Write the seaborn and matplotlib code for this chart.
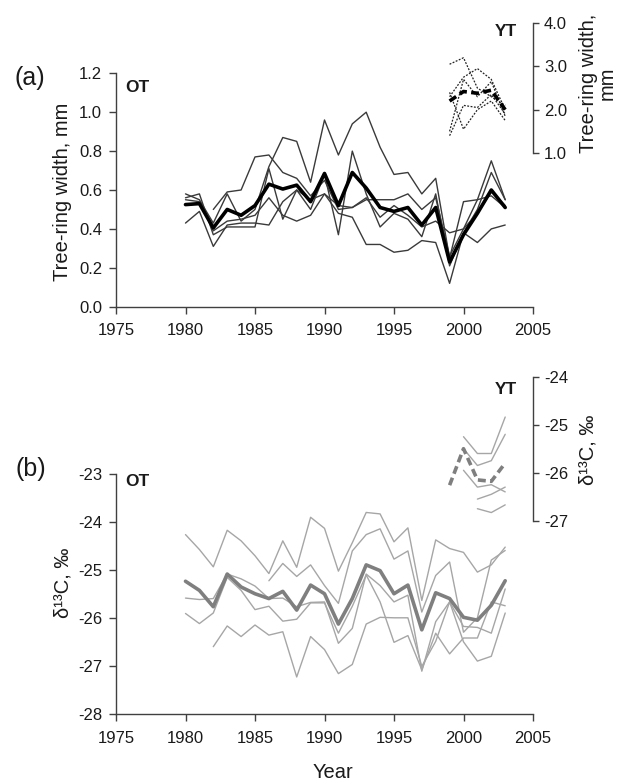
import numpy as np
import pandas as pd
import matplotlib
matplotlib.use("Agg")
import matplotlib.pyplot as plt
import seaborn as sns

nan = np.nan

# ---------------- data ----------------
years = list(range(1980, 2004))
yt_years = [1999, 2000, 2001, 2002, 2003]

# (a) tree-ring width, OT (mm)
ot_trw_mean = [0.525, 0.53, 0.405, 0.50, 0.47, 0.52, 0.63, 0.605, 0.625, 0.54, 0.685, 0.52,
               0.69, 0.61, 0.51, 0.49, 0.51, 0.42, 0.51, 0.23, 0.37, 0.48, 0.60, 0.51]
ot_trw_t1 = [0.58, 0.55, 0.43, 0.58, 0.44, 0.50, 0.72, 0.87, 0.85, 0.64, 0.96, 0.78,
             0.94, 1.00, 0.82, 0.68, 0.69, 0.58, 0.66, 0.25, 0.54, 0.55, 0.75, 0.55]
ot_trw_t2 = [nan, nan, 0.50, 0.59, 0.60, 0.77, 0.78, 0.69, 0.66, 0.57, 0.65, 0.50,
             0.51, 0.55, 0.55, 0.55, 0.58, 0.50, 0.56, 0.26, 0.40, 0.48, 0.59, 0.52]
ot_trw_t3 = [0.43, 0.49, 0.31, 0.42, 0.43, 0.43, 0.42, 0.54, 0.60, 0.55, 0.58, 0.48,
             0.46, 0.32, 0.32, 0.28, 0.29, 0.34, 0.33, 0.12, 0.38, 0.33, 0.40, 0.42]
ot_trw_t4 = [0.56, 0.58, 0.37, 0.41, 0.41, 0.41, 0.71, 0.45, 0.60, 0.50, 0.68, 0.37,
             0.80, 0.58, 0.41, 0.48, 0.45, 0.36, 0.58, 0.21, 0.38, 0.50, 0.69, 0.55]
ot_trw_t5 = [0.55, 0.54, 0.39, 0.44, 0.45, 0.47, 0.56, 0.47, 0.44, 0.47, 0.58, 0.52,
             0.51, 0.56, 0.46, 0.52, 0.47, 0.41, 0.44, 0.38, 0.40, 0.55, 0.57, 0.51]

# (a) tree-ring width, YT (mm)
yt_trw_mean = [2.2, 2.42, 2.38, 2.45, 2.0]
yt_trw_t1 = [3.05, 3.2, 2.5, 2.3, 2.1]
yt_trw_t2 = [2.3, 2.75, 2.95, 2.7, 2.0]
yt_trw_t3 = [1.5, 2.7, 2.3, 2.65, 1.85]
yt_trw_t4 = [2.4, 1.55, 2.0, 2.2, 1.75]
yt_trw_t5 = [1.4, 2.1, 2.05, 2.35, 1.9]

# (b) d13C, OT (permil)
ot_d13c_mean = [-25.24, -25.43, -25.77, -25.09, -25.36, -25.5, -25.6, -25.45, -25.84, -25.32,
                -25.5, -26.13, -25.6, -24.9, -25.02, -25.5, -25.32, -26.25, -25.48, -25.6,
                -25.99, -26.05, -25.74, -25.23]
ot_d13c_t1 = [-24.27, -24.58, -24.94, -24.18, -24.4, -24.71, -25.08, -24.4, -24.95, -23.91,
              -24.14, -25.03, -24.44, -23.81, -23.84, -24.42, -24.13, -25.64, -24.38, -24.56,
              -24.64, -25.05, -24.9, -24.53]
ot_d13c_t2 = [nan, nan, nan, nan, nan, nan, -25.23, -24.87, -25.14, -24.9,
              -25.33, -25.7, -24.61, -24.27, -24.15, -24.78, -24.61, -25.88, -25.12, -24.84,
              -26.3, -26.0, -24.8, -24.6]
ot_d13c_t3 = [-25.59, -25.62, -25.6, -25.09, -25.19, -25.34, -25.6, -25.59, -25.77, -25.68,
              -25.67, -26.53, -26.22, -25.09, -25.33, -25.67, -25.53, -27.11, -26.08, -25.67,
              -26.18, -26.2, -26.32, -25.4]
ot_d13c_t4 = [-25.91, -26.12, -25.9, -25.16, -25.43, -25.83, -25.76, -26.07, -26.03, -25.69,
              -25.69, -26.32, -25.76, -25.11, -25.67, -26.51, -26.37, -27.08, -26.32, -26.75,
              -26.42, -26.42, -25.67, -25.75]
ot_d13c_t5 = [nan, nan, -26.6, -26.17, -26.39, -26.15, -26.36, -26.29, -27.23, -26.39,
              -26.66, -27.16, -26.97, -26.13, -25.99, -26.0, -26.0, -27.01, -26.49, -25.67,
              -26.5, -26.9, -26.8, -25.9]

# (b) d13C, YT (permil)
yt_d13c_mean = [-26.26, -25.5, -26.15, -26.18, -25.8]
yt_d13c_t1 = [nan, -25.25, -25.6, -25.6, -24.84]
yt_d13c_t2 = [nan, -25.5, -25.85, -25.75, -25.2]
yt_d13c_t3 = [nan, -25.95, -26.3, -26.25, -26.4]
yt_d13c_t4 = [nan, nan, -26.55, -26.45, -26.3]
yt_d13c_t5 = [nan, nan, -26.75, -26.83, -26.67]

x_ticks = [1975, 1980, 1985, 1990, 1995, 2000, 2005]
trw_ticks = [0.0, 0.2, 0.4, 0.6, 0.8, 1.0, 1.2]
trw_yt_ticks = [1.0, 2.0, 3.0, 4.0]
d13c_ticks = [-28, -27, -26, -25, -24, -23]
d13c_yt_ticks = [-27, -26, -25, -24]

# ---------------- style ----------------
sns.set_style("ticks")
plt.rcParams["font.family"] = ["Liberation Sans", "DejaVu Sans"]
plt.rcParams["axes.edgecolor"] = "#404040"
plt.rcParams["axes.linewidth"] = 1.0
plt.rcParams["axes.unicode_minus"] = False

W, H = 618, 782
fig = plt.figure(figsize=(W / 100, H / 100), dpi=100)


def fx(px):
    return px / W


def fy(py):
    return 1 - py / H


TXT = "#1a1a1a"
TICK_FS = 12


def series_plot(ax, xs, ys, **kw):
    df = pd.DataFrame({"x": xs, "y": ys}).dropna()
    sns.lineplot(data=df, x="x", y="y", ax=ax, legend=False, estimator=None, **kw)


def style_axes(ax, ax2, yb, yt_b):
    ax.set_xlim(1975, 2005)
    ax.set_xticks(x_ticks)
    ax.spines["top"].set_visible(False)
    ax.spines["right"].set_visible(False)
    ax.spines["left"].set_bounds(*yb)
    ax.tick_params(axis="both", direction="out", length=5, width=1, color="#404040",
                   labelsize=TICK_FS, labelcolor=TXT)
    ax.tick_params(axis="x", pad=7)
    ax.tick_params(axis="y", pad=5)
    ax.set_xlabel("")
    ax.set_ylabel("")
    for s in ["top", "left", "bottom"]:
        ax2.spines[s].set_visible(False)
    ax2.spines["right"].set_bounds(*yt_b)
    ax2.tick_params(axis="y", direction="out", length=4, width=1, color="#404040",
                    labelsize=TICK_FS, labelcolor=TXT, pad=4)
    ax2.set_ylabel("")
    ax2.set_xlabel("")


# ---------------- panel (a) ----------------
left, right = 116, 533
a_bot, a_top = 306.7, 20
axA = fig.add_axes([fx(left), fy(a_bot), (right - left) / W, (a_bot - a_top) / H])
axA.patch.set_alpha(0)
axA.set_ylim(0, (a_bot - a_top) / 194.5)
axA.set_yticks(trw_ticks)
axA.set_yticklabels([f"{v:.1f}" for v in trw_ticks])

for s in [ot_trw_t1, ot_trw_t2, ot_trw_t3, ot_trw_t4, ot_trw_t5]:
    series_plot(axA, years, s, color="#3a3a3a", linewidth=1.0)
series_plot(axA, years, ot_trw_mean, color="black", linewidth=2.6)

axA2 = axA.twinx()
px_u = 43.3
axA2.set_ylim(1.0 - (a_bot - 153) / px_u, 1.0 + (153 - a_top) / px_u)
axA2.set_yticks(trw_yt_ticks)
axA2.set_yticklabels([f"{v:.1f}" for v in trw_yt_ticks])
for s in [yt_trw_t1, yt_trw_t2, yt_trw_t3, yt_trw_t4, yt_trw_t5]:
    series_plot(axA2, yt_years, s, color="#222222", linewidth=0.9, linestyle=(0, (1.5, 1.2)))
series_plot(axA2, yt_years, yt_trw_mean, color="black", linewidth=2.6,
            linestyle=(0, (2.2, 1.2)))
style_axes(axA, axA2, (0, 1.2), (1.0, 4.0))

# ---------------- panel (b) ----------------
b_bot, b_top = 714, 365
axB = fig.add_axes([fx(left), fy(b_bot), (right - left) / W, (b_bot - b_top) / H])
axB.patch.set_alpha(0)
axB.set_ylim(-28, -28 + (b_bot - b_top) / 48.1)
axB.set_yticks(d13c_ticks)
for s in [ot_d13c_t1, ot_d13c_t2, ot_d13c_t3, ot_d13c_t4, ot_d13c_t5]:
    series_plot(axB, years, s, color="#a6a6a6", linewidth=1.0)
series_plot(axB, years, ot_d13c_mean, color="#7f7f7f", linewidth=2.6)

axB2 = axB.twinx()
axB2.set_ylim(-26 - (b_bot - 472.7) / 48.0, -26 + (472.7 - b_top) / 48.0)
axB2.set_yticks(d13c_yt_ticks)
for s in [yt_d13c_t1, yt_d13c_t2, yt_d13c_t3, yt_d13c_t4, yt_d13c_t5]:
    series_plot(axB2, yt_years, s, color="#a6a6a6", linewidth=1.0)
series_plot(axB2, yt_years, yt_d13c_mean, color="#7f7f7f", linewidth=2.6,
            linestyle=(0, (2.2, 1.2)))
style_axes(axB, axB2, (-28, -23), (-27, -24))

# ---------------- texts ----------------
fig.text(fx(30), fy(78), "(a)", fontsize=18, ha="center", va="center", color=TXT)
fig.text(fx(125), fy(87), "OT", fontsize=12.5, weight="bold", ha="left", va="center", color=TXT)
fig.text(fx(517), fy(31), "YT", fontsize=12.5, weight="bold", ha="right", va="center", color=TXT)
fig.text(fx(63), fy(192), "Tree-ring width, mm", fontsize=14.5, rotation=90,
         ha="center", va="center", color=TXT)
fig.text(fx(598), fy(83), "Tree-ring width,\nmm", fontsize=14.5, rotation=90,
         ha="center", va="center", multialignment="center", linespacing=1.0, color=TXT)

fig.text(fx(31), fy(469), "(b)", fontsize=18, ha="center", va="center", color=TXT)
fig.text(fx(125), fy(481), "OT", fontsize=12.5, weight="bold", ha="left", va="center", color=TXT)
fig.text(fx(517), fy(389), "YT", fontsize=12.5, weight="bold", ha="right", va="center", color=TXT)
fig.text(fx(63), fy(583), "δ¹³C, ‰", fontsize=14.5, rotation=90,
         ha="center", va="center", color=TXT)
fig.text(fx(588), fy(450), "δ¹³C, ‰", fontsize=14.5, rotation=90,
         ha="center", va="center", color=TXT)
fig.text(fx(333), fy(772), "Year", fontsize=14.5, ha="center", va="center", color=TXT)

fig.savefig("out.png", dpi=100)
